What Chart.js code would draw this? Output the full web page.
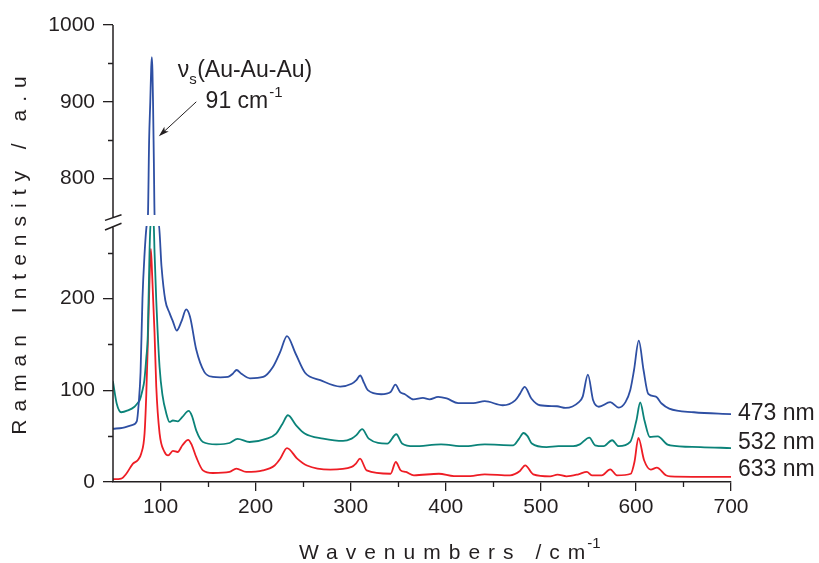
<!DOCTYPE html>
<html>
<head>
<meta charset="utf-8">
<title>Raman spectra</title>
<script src="https://cdn.jsdelivr.net/npm/chart.js"></script>
<style>
  html, body { margin: 0; padding: 0; background: #fff; }
  #wrap { width: 819px; height: 563px; }
</style>
</head>
<body>
<div id="wrap"><canvas id="raman" width="819" height="563"></canvas></div>
<script>
// spectra (wavenumber / intensity)
var wn473 = [50, 60, 70, 75, 77, 79, 81, 83, 85.5, 86.7, 88, 89.2, 90.2, 90.9, 91.5, 92.1, 93, 93.8, 98.2, 101,
  105, 109.5, 113, 117, 122, 127, 131, 137.6, 146, 155, 163, 171, 176, 180, 185, 194, 208, 218, 226, 233,
  242, 252, 268, 289, 301, 306, 310, 314, 318, 332, 342, 347, 352, 357, 366, 376, 383, 392, 401, 413,
  429, 441, 460, 473, 478, 483, 490, 499, 517, 526, 540, 544, 549.5, 555, 561, 573, 582, 589, 594, 598,
  603, 608, 613, 621, 627, 635, 661, 700];
var int473 = [58, 59, 62, 66, 85, 120, 200, 245, 280, 750, 850, 900, 945, 958, 940, 900, 820, 750, 280, 235,
  198, 184, 175, 165, 175, 188, 180, 144, 120, 114.5, 114, 114.5, 118, 122, 118, 113, 114.5, 125, 142, 159,
  140, 119, 111, 104, 107, 111, 116, 108, 100, 95.6, 98, 106, 98, 95.6, 90, 91.6, 90, 92.7, 91, 86,
  86, 88, 83.6, 89, 96, 103.6, 91, 83.6, 82.5, 80.7, 87, 93, 117, 89, 82, 87, 81, 87, 100, 122,
  154, 122, 96, 93, 85.5, 80, 76, 74];

var wn532 = [50, 54, 58.6, 65.6, 72.6, 76, 78, 81, 83, 85, 86.6, 88.4, 89.5, 91.2, 92.8, 93.7, 95.5, 99, 102, 106,
  109.5, 113, 118, 123, 129.6, 133, 137.6, 144.6, 158.6, 172.6, 181, 193.6, 211, 221.6, 228, 234, 242.6, 251.6, 271, 292,
  301, 306, 312, 319, 338.5, 348, 354, 366.5, 395, 419, 441, 471, 477, 481.7, 486, 490.5, 506, 518.5, 534, 541,
  551, 557, 566, 575, 581.8, 594, 600.5, 604.5, 609, 614.6, 623, 632.8, 636, 668, 700];
var int532 = [109, 85, 76, 78, 82, 86, 89, 100, 111, 135, 160, 250, 290, 400, 290, 250, 198, 125, 95, 75,
  65.4, 67, 66, 71, 77.4, 72, 56, 43.6, 41, 42.5, 47, 43.6, 47, 52.8, 63, 72.7, 61.8, 52.8, 47.3, 44.7,
  47.3, 51, 57.5, 47.3, 41.9, 52, 42, 39, 41, 39, 41, 40, 47, 53.4, 50, 42, 38, 39, 39, 41,
  48.4, 40, 39, 45.5, 39, 43.6, 67, 86.6, 67, 49, 49.8, 41, 40, 38, 37];

var wn633 = [50, 58.6, 64, 71, 76, 79.7, 83.2, 85, 86.6, 88.3, 89.8, 91.2, 93.7, 95.5, 99, 104, 108, 113, 118, 123,
  129, 133, 137.6, 144.6, 155, 172.6, 179.7, 190, 207.7, 220, 226, 233, 243.7, 254, 278.6, 301, 305.5, 309.8, 316.8, 342,
  347.4, 352.6, 358, 366.5, 392.8, 408.6, 425.6, 441, 467.6, 478, 483.5, 492, 509.8, 517.5, 527, 539.6, 548.4, 553.7, 564, 573,
  580, 594.6, 598.5, 602.6, 608.6, 615.6, 622, 631.5, 636, 700];
var int633 = [3, 3.7, 9, 20, 23.7, 31, 53, 95, 150, 215, 254, 225, 162, 104, 53, 33, 29, 33.8, 32.7, 40,
  46, 40, 27, 12.7, 9.8, 11, 14.6, 11, 12.7, 18, 25.5, 37, 25.5, 18, 13.5, 16.4, 20, 25.5, 12.7, 9,
  21.8, 12.7, 11, 7.3, 9, 6.5, 6.5, 8.4, 7.3, 12, 18.2, 8.4, 6.2, 8, 6.2, 8.4, 11, 7.3, 7.3, 13.8,
  7.3, 9, 22, 48, 23.7, 13.5, 15.7, 7.3, 6.2, 5.5];

var seriesLabels = ["473 nm", "532 nm", "633 nm"];
var seriesLabelAt = [74, 43, 13];          // intensity the right-hand labels line up with
var seriesColors = ["#2e4fa3", "#0b8379", "#ee1d25"];

var xTicks = [100, 200, 300, 400, 500, 600, 700];
var xMinorTicks = [150, 250, 350, 450, 550, 650];
var yTicks = [0, 100, 200, 800, 900, 1000];
var yMinorTicks = [50, 150, 250, 850, 950];

// broken y axis: 0..280 below the break, 750..1000 above it
var BREAK_LOW = 280;
var BREAK_HIGH = 750;
var LOW_FRAC = 0.5624;
var GAP_FRAC = 0.0175;

var FONT = '"Liberation Sans", Arial, Helvetica, sans-serif';
var AXIS = "#231f20";

class BrokenLinearScale extends Chart.LinearScale {
  getPixelForValue(value) {
    if (value === null || isNaN(value)) return NaN;
    var d;
    if (value <= BREAK_LOW) {
      d = (value - this.min) / (BREAK_LOW - this.min) * LOW_FRAC;
    } else if (value < BREAK_HIGH) {
      d = LOW_FRAC + (value - BREAK_LOW) / (BREAK_HIGH - BREAK_LOW) * GAP_FRAC;
    } else {
      d = LOW_FRAC + GAP_FRAC + (value - BREAK_HIGH) / (this.max - BREAK_HIGH) * (1 - LOW_FRAC - GAP_FRAC);
    }
    return this.getPixelForDecimal(d);
  }
  getValueForPixel(pixel) {
    var d = this.getDecimalForPixel(pixel);
    if (d <= LOW_FRAC) return this.min + d / LOW_FRAC * (BREAK_LOW - this.min);
    if (d < LOW_FRAC + GAP_FRAC) return BREAK_LOW + (d - LOW_FRAC) / GAP_FRAC * (BREAK_HIGH - BREAK_LOW);
    return BREAK_HIGH + (d - LOW_FRAC - GAP_FRAC) / (1 - LOW_FRAC - GAP_FRAC) * (this.max - BREAK_HIGH);
  }
}
BrokenLinearScale.id = "brokenLinear";
BrokenLinearScale.defaults = Chart.LinearScale.defaults;
Chart.register(BrokenLinearScale);

function toPoints(xs, ys) {
  return xs.map(function (x, i) { return { x: x, y: ys[i] }; });
}

function makeSet(label, xs, ys, color) {
  return {
    label: label,
    data: toPoints(xs, ys),
    borderColor: color,
    borderWidth: 1.8,
    pointRadius: 0,
    fill: false,
    cubicInterpolationMode: "monotone",
    borderJoinStyle: "round",
    borderCapStyle: "round"
  };
}

function text(ctx, str, x, y, size, align) {
  ctx.font = size + "px " + FONT;
  ctx.textAlign = align || "left";
  ctx.fillText(str, x, y);
  return ctx.measureText(str).width;
}

var decorPlugin = {
  id: "decor",
  afterDatasetsDraw: function (chart) {
    var ctx = chart.ctx, area = chart.chartArea;
    var xs = chart.scales.x, ys = chart.scales.y;
    var yHi = ys.getPixelForValue(BREAK_HIGH);
    var yLo = ys.getPixelForValue(BREAK_LOW);

    ctx.save();
    // white band where the axis is broken
    ctx.fillStyle = "#fff";
    ctx.fillRect(area.left + 1, yHi - 2, area.right - area.left, yLo - yHi + 3);

    ctx.strokeStyle = AXIS;
    ctx.lineWidth = 1.5;
    ctx.beginPath();
    ctx.moveTo(area.left, area.top);
    ctx.lineTo(area.left, yHi + 0.8);
    ctx.moveTo(area.left, yLo + 1.8);
    ctx.lineTo(area.left, area.bottom);
    // the two slanted break marks
    ctx.moveTo(area.left - 8, yHi + 3.4);
    ctx.lineTo(area.left + 8.5, yHi - 2.3);
    ctx.moveTo(area.left - 8, yLo + 5);
    ctx.lineTo(area.left + 8.5, yLo - 1.7);
    ctx.stroke();

    // minor ticks
    ctx.lineWidth = 1.3;
    ctx.beginPath();
    yMinorTicks.forEach(function (v) {
      var p = Math.round(ys.getPixelForValue(v)) + 0.5;
      ctx.moveTo(area.left - 5, p);
      ctx.lineTo(area.left, p);
    });
    xMinorTicks.forEach(function (v) {
      var p = Math.round(xs.getPixelForValue(v)) + 0.5;
      ctx.moveTo(p, area.bottom);
      ctx.lineTo(p, area.bottom + 5);
    });
    ctx.stroke();
    ctx.restore();
  },
  afterDraw: function (chart) {
    var ctx = chart.ctx, area = chart.chartArea;
    var xs = chart.scales.x, ys = chart.scales.y;
    ctx.save();
    ctx.fillStyle = AXIS;

    // series labels at the right end of the traces
    ctx.textBaseline = "middle";
    seriesLabels.forEach(function (lab, i) {
      text(ctx, lab, area.right + 7, ys.getPixelForValue(seriesLabelAt[i]), 23);
    });
    ctx.textBaseline = "alphabetic";

    // peak annotation: nu_s(Au-Au-Au) 91 cm-1 with arrow
    var nx = xs.getPixelForValue(118), ny = ys.getPixelForValue(932);
    var w = text(ctx, "\u03bd", nx, ny, 23);
    w += text(ctx, "s", nx + w, ny + 7, 15);
    text(ctx, "(Au-Au-Au)", nx + w + 0.5, ny, 23);

    var mx = xs.getPixelForValue(147.4), my = ys.getPixelForValue(892);
    var w2 = text(ctx, "91 cm", mx, my, 23);
    text(ctx, "-1", mx + w2 + 1, my - 11, 15);

    var ax0 = xs.getPixelForValue(137.6), ay0 = ys.getPixelForValue(900);
    var ax1 = xs.getPixelForValue(98.2), ay1 = ys.getPixelForValue(855);
    var ang = Math.atan2(ay1 - ay0, ax1 - ax0);
    ctx.strokeStyle = AXIS;
    ctx.lineWidth = 1;
    ctx.beginPath();
    ctx.moveTo(ax0, ay0);
    ctx.lineTo(ax1 - 6 * Math.cos(ang), ay1 - 6 * Math.sin(ang));
    ctx.stroke();
    ctx.beginPath();
    ctx.moveTo(ax1, ay1);
    ctx.lineTo(ax1 - 11 * Math.cos(ang - 0.3), ay1 - 11 * Math.sin(ang - 0.3));
    ctx.lineTo(ax1 - 8 * Math.cos(ang), ay1 - 8 * Math.sin(ang));
    ctx.lineTo(ax1 - 11 * Math.cos(ang + 0.3), ay1 - 11 * Math.sin(ang + 0.3));
    ctx.closePath();
    ctx.fill();

    // axis titles, letter-spaced like the original
    if ("letterSpacing" in ctx) ctx.letterSpacing = "8px";
    ctx.font = "21px " + FONT;
    var xt = "Wavenumbers /cm";
    var xtw = ctx.measureText(xt).width;
    ctx.font = "15px " + FONT;
    var supw = ctx.measureText("-1").width;
    var xc = xs.getPixelForValue(400) + 15;
    var x0 = xc - (xtw + supw) / 2;
    text(ctx, xt, x0, 559, 21);
    if ("letterSpacing" in ctx) ctx.letterSpacing = "0px";
    text(ctx, "-1", x0 + xtw - 6, 548, 15);

    if ("letterSpacing" in ctx) ctx.letterSpacing = "8px";
    ctx.font = "21px " + FONT;
    var yt = "Raman Intensity / a.u";
    var ytw = ctx.measureText(yt).width;
    var yc = (area.top + area.bottom) / 2 - 2;
    ctx.translate(26, yc + ytw / 2);
    ctx.rotate(-Math.PI / 2);
    text(ctx, yt, 0, 0, 21);
    ctx.restore();
  }
};

var datasets = [
  makeSet(seriesLabels[0], wn473, int473, seriesColors[0]),
  makeSet(seriesLabels[1], wn532, int532, seriesColors[1]),
  makeSet(seriesLabels[2], wn633, int633, seriesColors[2])
];

function plainLabel(v) { return String(v); }

new Chart(document.getElementById("raman"), {
  type: "line",
  data: { datasets: datasets },
  options: {
    responsive: false,
    devicePixelRatio: 1,
    animation: false,
    events: [],
    layout: { padding: { top: 25, right: 88, left: 0, bottom: 0 } },
    plugins: { legend: { display: false }, tooltip: { enabled: false } },
    scales: {
      x: {
        type: "linear",
        min: 50,
        max: 700,
        afterBuildTicks: function (s) { s.ticks = xTicks.map(function (v) { return { value: v }; }); },
        afterFit: function (s) { s.height = 81; },
        grid: { drawOnChartArea: false, drawTicks: true, tickLength: 9, color: AXIS, lineWidth: 1.3 },
        border: { display: true, color: AXIS, width: 1.5 },
        ticks: { font: { family: FONT, size: 21 }, color: AXIS, padding: 4, maxRotation: 0, autoSkip: false, callback: plainLabel }
      },
      y: {
        type: "brokenLinear",
        min: 0,
        max: 1000,
        afterBuildTicks: function (s) { s.ticks = yTicks.map(function (v) { return { value: v }; }); },
        afterFit: function (s) { s.width = 113; },
        grid: { drawOnChartArea: false, drawTicks: true, tickLength: 10, color: AXIS, lineWidth: 1.3 },
        border: { display: false },
        ticks: { font: { family: FONT, size: 21 }, color: AXIS, padding: 8, autoSkip: false, callback: plainLabel }
      }
    }
  },
  plugins: [decorPlugin]
});
</script>
</body>
</html>
